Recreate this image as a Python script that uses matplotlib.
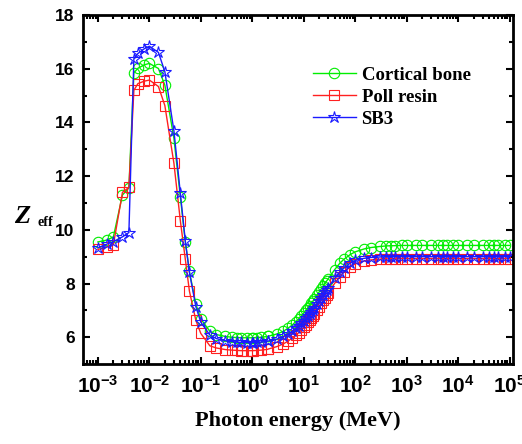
import math
import matplotlib
matplotlib.use('Agg')
import matplotlib.pyplot as plt
from matplotlib.ticker import FixedLocator, LogLocator, MultipleLocator, FuncFormatter, NullFormatter

plt.rcParams['mathtext.fontset'] = 'custom'
plt.rcParams['mathtext.rm'] = 'Liberation Sans:bold'
plt.rcParams['mathtext.bf'] = 'Liberation Sans:bold'

# photon energies (MeV)
energy = [0.001, 0.0015, 0.002, 0.003, 0.004, 0.005, 0.006, 0.008,
          0.01, 0.015, 0.02, 0.03, 0.04, 0.05, 0.06, 0.08,
          0.1, 0.15, 0.2, 0.3, 0.4, 0.5, 0.6, 0.8,
          1, 1.022, 1.25, 1.5, 2, 2.044, 3, 4, 5, 6, 7, 8, 9,
          10, 11, 12, 13, 14, 15, 16, 18, 20, 22, 24, 26, 28, 30, 40, 50, 60, 80,
          100, 150, 200, 300, 400, 500, 600, 800,
          1000, 1500, 2000, 3000, 4000, 5000, 6000, 8000,
          10000, 15000, 20000, 30000, 40000, 50000, 60000, 80000,
          100000]

cortical_bone = [9.55, 9.62, 9.74, 11.3, 11.56, 15.85, 16.02, 16.15,
                 16.2, 16.01, 15.39, 13.41, 11.23, 9.55, 8.45, 7.24,
                 6.68, 6.22, 6.1, 6.03, 6.0, 5.99, 5.98, 5.98,
                 5.98, 5.98, 5.99, 6.0, 6.03, 6.04, 6.12, 6.22, 6.34, 6.46, 6.58, 6.69, 6.8,
                 6.9, 7.0, 7.09, 7.18, 7.26, 7.34, 7.42, 7.56, 7.69, 7.81, 7.92, 8.02, 8.1, 8.18, 8.52, 8.75, 8.9, 9.08,
                 9.18, 9.29, 9.34, 9.38, 9.4, 9.41, 9.41, 9.42,
                 9.42, 9.42, 9.42, 9.42, 9.42, 9.42, 9.42, 9.42,
                 9.42, 9.42, 9.42, 9.42, 9.42, 9.42, 9.42, 9.42,
                 9.42]

poll_resin = [9.27, 9.37, 9.45, 11.4, 11.58, 15.2, 15.45, 15.54,
              15.58, 15.34, 14.63, 12.48, 10.34, 8.9, 7.72, 6.63,
              6.14, 5.68, 5.6, 5.54, 5.52, 5.51, 5.5, 5.5,
              5.5, 5.5, 5.51, 5.52, 5.55, 5.56, 5.65, 5.75, 5.86, 5.97, 6.07, 6.17, 6.27,
              6.37, 6.46, 6.55, 6.63, 6.71, 6.79, 6.87, 7.01, 7.14, 7.26, 7.37, 7.47, 7.56, 7.65, 8.01, 8.25, 8.42, 8.62,
              8.73, 8.84, 8.88, 8.91, 8.92, 8.92, 8.93, 8.93,
              8.93, 8.93, 8.93, 8.93, 8.93, 8.93, 8.93, 8.93,
              8.93, 8.93, 8.93, 8.93, 8.93, 8.93, 8.93, 8.93,
              8.93]

sb3 = [9.33, 9.47, 9.56, 9.74, 9.9, 16.38, 16.57, 16.75,
       16.84, 16.61, 15.89, 13.69, 11.36, 9.58, 8.42, 7.14,
       6.56, 6.08, 5.95, 5.87, 5.84, 5.82, 5.81, 5.8,
       5.8, 5.8, 5.81, 5.82, 5.85, 5.86, 5.93, 6.03, 6.13, 6.23, 6.33, 6.43, 6.52,
       6.61, 6.7, 6.79, 6.87, 6.95, 7.02, 7.09, 7.23, 7.36, 7.48, 7.59, 7.69, 7.77, 7.85, 8.2, 8.42, 8.57, 8.76,
       8.86, 8.94, 8.97, 8.99, 9.0, 9.0, 9.0, 9.0,
       9.0, 9.0, 9.0, 9.0, 9.0, 9.0, 9.0, 9.0,
       9.0, 9.0, 9.0, 9.0, 9.0, 9.0, 9.0, 9.0,
       9.0]

decades = [1e-3, 1e-2, 1e-1, 1e0, 1e1, 1e2, 1e3, 1e4, 1e5]

fig = plt.figure(figsize=(5.22, 4.44), dpi=100)
ax = fig.add_axes([0.159, 0.180, 0.824, 0.786])

ax.plot(energy, cortical_bone, color='#00ee00', lw=1, marker='o', ms=7.5,
        mfc='none', mec='#00ee00', mew=0.8, label='Cortical bone')
ax.plot(energy, poll_resin, color='#ff2020', lw=1, marker='s', ms=7,
        mfc='none', mec='#ff2020', mew=0.8, label='Poll resin')
ax.plot(energy, sb3, color='#1a1aff', lw=1, marker='*', ms=9,
        mfc='none', mec='#1a1aff', mew=0.8, label='SB3')

ax.set_xscale('log')
ax.set_xlim(10 ** -3.29, 10 ** 5.07)
ax.set_ylim(5, 18)

ax.xaxis.set_major_locator(FixedLocator(decades))
ax.xaxis.set_minor_locator(LogLocator(base=10, subs=range(2, 10), numticks=100))
ax.xaxis.set_major_formatter(FuncFormatter(lambda v, p: r'$\mathbf{10^{%d}}$' % round(math.log10(v))))
ax.xaxis.set_minor_formatter(NullFormatter())
ax.yaxis.set_major_locator(MultipleLocator(2))
ax.yaxis.set_minor_locator(MultipleLocator(1))

ax.tick_params(which='both', direction='in', top=True, right=True, width=1.5)
ax.tick_params(which='major', length=5)
ax.tick_params(which='minor', length=3)
ax.tick_params(axis='y', labelsize=12.5, pad=6)
ax.tick_params(axis='x', labelsize=15, pad=8)
for lab in ax.get_yticklabels():
    lab.set_fontfamily('Liberation Sans')
    lab.set_fontweight('bold')
for s in ax.spines.values():
    s.set_linewidth(2)

ax.set_xlabel('Photon energy (MeV)', family='Liberation Serif', weight='bold',
              fontsize=16, labelpad=10)
fig.text(0.026, 0.497, 'Z', family='Liberation Serif', style='italic',
         weight='bold', fontsize=19)
fig.text(0.071, 0.492, 'eff', family='Liberation Serif', weight='bold', fontsize=10)

leg = ax.legend(loc='upper left', bbox_to_anchor=(0.495, 0.90), frameon=False,
                numpoints=1, handlelength=2.3, handletextpad=0.3, labelspacing=0.25,
                prop={'family': 'Liberation Serif', 'weight': 'bold', 'size': 13.5})

plt.savefig('out.png', dpi=100)
